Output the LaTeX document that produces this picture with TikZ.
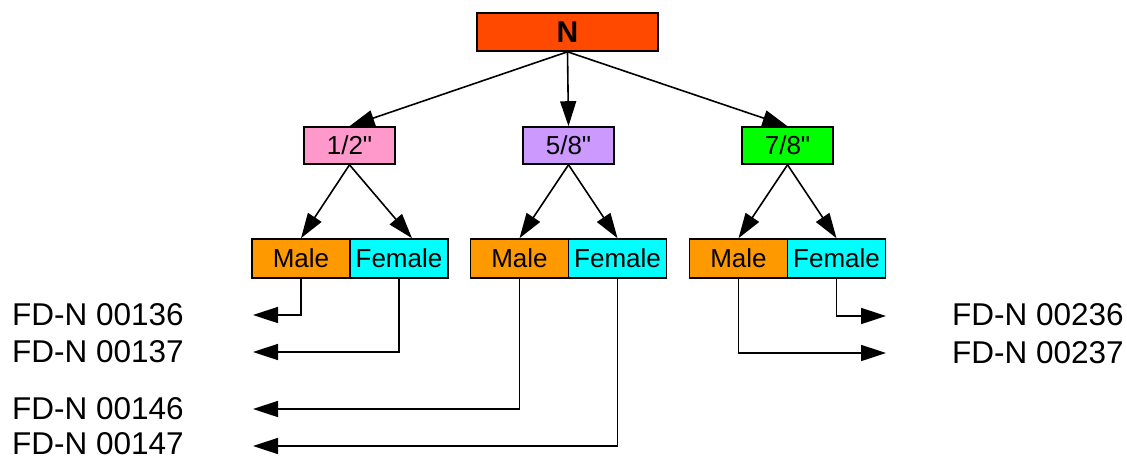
\documentclass[tikz,border=0pt]{standalone}
\usepackage{fontspec}
\setmainfont{Liberation Sans}[Ligatures=TeXOff]
\usetikzlibrary{arrows.meta}
\definecolor{rootred}{HTML}{FF4800}
\definecolor{sizepink}{HTML}{FF99CC}
\definecolor{sizepurple}{HTML}{CC99FF}
\definecolor{sizegreen}{HTML}{00FF00}
\definecolor{maleorange}{HTML}{FF9900}
\definecolor{femalecyan}{HTML}{00FFFF}
\tikzset{
  box/.style={draw=black, line width=1.6pt, inner sep=0pt, minimum height=37pt,
    font=\fontsize{26}{26}\selectfont},
  rootbox/.style={box, fill=rootred, minimum width=181pt, minimum height=38pt,
    font=\fontsize{30}{30}\selectfont\bfseries},
  sizebox/.style={box, minimum width=91pt},
  halfbox/.style={box, minimum width=98pt, minimum height=39pt},
  lbl/.style={inner sep=0pt, font=\fontsize{31.5}{31.5}\selectfont},
  conn/.style={line width=1.6pt, -{Triangle[length=25pt,width=16pt]}},
}
\begin{document}
\begin{tikzpicture}[x=1pt,y=-1pt]
\useasboundingbox (0,0) rectangle (1127,459);

% root and size level
\node[rootbox] (N) at (567.5,32) {N};
\node[sizebox, fill=sizepink]   (s12) at (349.5,145.5) {1/2"};
\node[sizebox, fill=sizepurple] (s58) at (568.5,145.5) {5/8"};
\node[sizebox, fill=sizegreen]  (s78) at (787.5,145.5) {7/8"};

% male / female pairs
\node[halfbox, fill=maleorange]  (m1) at (301,258.5) {Male};
\node[halfbox, fill=femalecyan]  (f1) at (399,258.5) {Female};
\node[halfbox, fill=maleorange]  (m2) at (519.5,258.5) {Male};
\node[halfbox, fill=femalecyan]  (f2) at (617.5,258.5) {Female};
\node[halfbox, fill=maleorange]  (m3) at (738.5,258.5) {Male};
\node[halfbox, fill=femalecyan]  (f3) at (836.5,258.5) {Female};

% part numbers
\node[lbl, anchor=west] (p136) at (12,315) {FD-N 00136};
\node[lbl, anchor=west] (p137) at (12,352) {FD-N 00137};
\node[lbl, anchor=west] (p146) at (12,409) {FD-N 00146};
\node[lbl, anchor=west] (p147) at (12,444) {FD-N 00147};
\node[lbl, anchor=east] (p236) at (1124,315) {FD-N 00236};
\node[lbl, anchor=east] (p237) at (1124,353) {FD-N 00237};

% arrow ends beside the part numbers
\coordinate (e136) at (253,315);
\coordinate (e137) at (253,352);
\coordinate (e146) at (253,409);
\coordinate (e147) at (253,446);
\coordinate (e236) at (886,316);
\coordinate (e237) at (886,353);

% tree connectors
\draw[conn] (N.south) -- (s12.north);
\draw[conn] (N.south) -- (s58.north);
\draw[conn] (N.south) -- (s78.north);
\draw[conn] (s12.south) -- (m1.north);
\draw[conn] (s12.south) -- ([xshift=13pt]f1.north);
\draw[conn] (s58.south) -- (m2.north);
\draw[conn] (s58.south) -- (f2.north);
\draw[conn] (s78.south) -- (m3.north);
\draw[conn] (s78.south) -- (f3.north);

% elbow connectors to part numbers
\draw[conn] (m1.south) |- (e136);
\draw[conn] (f1.south) |- (e137);
\draw[conn] (m2.south) |- (e146);
\draw[conn] (f2.south) |- (e147);
\draw[conn] (f3.south) |- (e236);
\draw[conn] (m3.south) |- (e237);
\end{tikzpicture}
\end{document}
